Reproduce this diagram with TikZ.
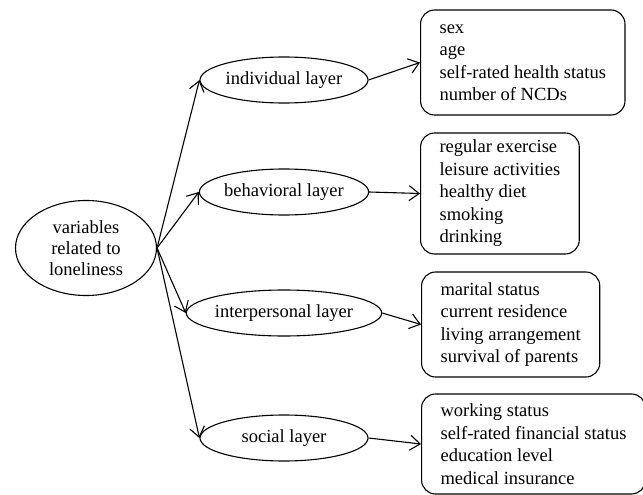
\documentclass[tikz,border=0pt]{standalone}
\usepackage{fontspec}
\setmainfont{Liberation Serif}
\usetikzlibrary{arrows.meta, shapes.geometric, positioning}

\tikzset{
  layer/.style={ellipse, draw, line width=1.1pt, minimum width=168pt, minimum height=46pt, inner sep=0pt},
  itembox/.style={draw, rounded corners=14pt, line width=1.1pt, align=left, anchor=west,
                  inner xsep=19pt, inner ysep=5pt},
  link/.style={line width=1.1pt, -{Straight Barb[length=10pt, width=15pt]}}
}

\begin{document}
\begin{tikzpicture}[x=1pt, y=-1pt, every node/.style={font=\fontsize{18.5}{22.5}\selectfont}]
  \useasboundingbox (0,0) rectangle (643,495);

  % centre
  \node[ellipse, draw, line width=1.1pt, minimum width=141pt, minimum height=95pt, inner sep=0pt,
        align=center, font=\fontsize{18.5}{21}\selectfont] (vars) at (86,248) {variables\\related to\\loneliness};

  % layers
  \node[layer] (ind)   at (284,80)  {individual layer};
  \node[layer] (beh)   at (284,192) {behavioral layer};
  \node[layer] (inter) at (284,313) {interpersonal layer};
  \node[layer] (soc)   at (284,438) {social layer};

  % variable boxes
  \node[itembox, minimum height=105pt] (indbox) at (420,62.5)
    {sex\\age\\self-rated health status\\number of NCDs};
  \node[itembox, minimum height=121pt] (behbox) at (420,193.5)
    {regular exercise\\leisure activities\\healthy diet\\smoking\\drinking};
  \node[itembox, minimum height=105pt] (interbox) at (421,324.5)
    {marital status\\current residence\\living arrangement\\survival of parents};
  \node[itembox, minimum height=100pt] (socbox) at (421,444)
    {working status\\self-rated financial status\\education level\\medical insurance};

  \foreach \l in {ind, beh, inter, soc}
    \draw[link] (vars.east) -- (\l.west);

  \draw[link] (ind.east) -- (indbox.west);
  \draw[link] (beh.east) -- (behbox.west);
  \draw[link] (inter.east) -- (interbox.west);
  \draw[link] (soc.east) -- (socbox.west);
\end{tikzpicture}
\end{document}
